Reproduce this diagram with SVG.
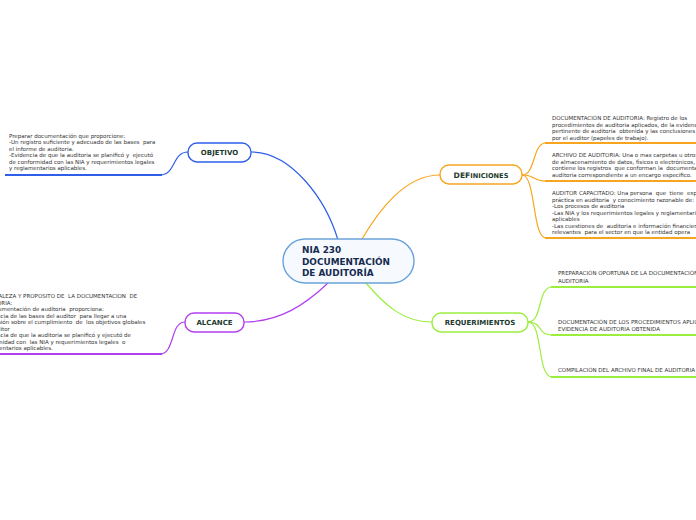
<svg xmlns="http://www.w3.org/2000/svg" width="696" height="520" viewBox="0 0 696 520" xml:space="preserve">
<style>
.note{font-family:"DejaVu Sans","Liberation Sans",sans-serif;font-size:5.5px;fill:#333333;white-space:pre}
.lbl{font-family:"DejaVu Sans","Liberation Sans",sans-serif;font-weight:bold;font-size:7px;fill:#1c3a2e;text-anchor:middle}
.ctr{font-family:"DejaVu Sans","Liberation Sans",sans-serif;font-weight:bold;font-size:8.9px;fill:#172b50}
.node{fill:#ffffff;stroke-width:1.4}
.c{fill:none;stroke-width:1.2}
.u{fill:none;stroke-width:2}
.blue{stroke:#2f5fea}
.orange{stroke:#f7a51e}
.green{stroke:#9bee3c}
.purple{stroke:#b23ef0}
</style>
<rect width="696" height="520" fill="#ffffff"/>
<g id="connectors">
<path class="c blue" d="M338,240 C326,200 292,152 251,152"/>
<path class="c orange" d="M362,239 C378,212 404,175 440,175"/>
<path class="c purple" d="M328,283 C306,304 280,322 244,322"/>
<path class="c green" d="M366,283 C384,304 402,322 432,322"/>
<path class="c blue" d="M188,152 C172,152 176,175 160,175"/>
<path class="u blue" d="M5,175 L162,175"/>
<path class="c orange" d="M522,175 C536,175 532,143 546,143"/>
<path class="c orange" d="M522,175 C536,175 532,181 546,181"/>
<path class="c orange" d="M522,175 C536,175 532,238 546,238"/>
<path class="u orange" d="M545,143 L696,143 M545,181 L696,181 M545,238 L696,238"/>
<path class="c green" d="M528,322 C543,322 537,287 552,287"/>
<path class="c green" d="M528,322 C543,322 537,335 552,335"/>
<path class="c green" d="M528,322 C543,322 537,377 552,377"/>
<path class="u green" d="M551,287 L696,287 M551,335 L696,335 M551,377 L696,377"/>
<path class="c purple" d="M185,322 C170,322 175,354 160,354"/>
<path class="u purple" d="M0,354 L162,354"/>
</g>
<g id="center">
<rect x="283" y="239" width="131" height="44" rx="22" fill="#f6faff" stroke="#6aa3d8" stroke-width="1.4"/>
<text class="ctr" x="302" y="253">NIA 230</text>
<text class="ctr" x="302" y="264.5">DOCUMENTACIÓN</text>
<text class="ctr" x="302" y="276">DE AUDITORÍA</text>
</g>
<g id="objetivo">
<rect class="node blue" x="188" y="143" width="63" height="19" rx="9"/>
<text class="lbl" x="219.5" y="155">OBJETIVO</text>
</g>
<g id="definiciones">
<rect class="node orange" x="440" y="165" width="82" height="19" rx="9"/>
<text class="lbl" x="481" y="177.5"><tspan font-size="7.6">DEF</tspan><tspan font-size="6.6">INICIONES</tspan></text>
</g>
<g id="alcance">
<rect class="node purple" x="185" y="313" width="59" height="19" rx="9"/>
<text class="lbl" x="214.5" y="325">ALCANCE</text>
</g>
<g id="requerimientos">
<rect class="node green" x="432" y="313" width="96" height="19" rx="9"/>
<text class="lbl" x="480" y="325">REQUERIMIENTOS</text>
</g>
<g id="objetivo-note">
<text class="note" x="9" y="137.5">Preparar documentación que proporcione:</text>
<text class="note" x="9" y="144">-Un registro suficiente y adecuado de las bases  para</text>
<text class="note" x="9" y="150.5">el informe de auditoria.</text>
<text class="note" x="9" y="157">-Evidencia de que la auditoria se planificó y  ejecutó</text>
<text class="note" x="9" y="163.5">de conformidad con las NIA y requerimientos legales</text>
<text class="note" x="9" y="170">y reglamentarios aplicables.</text>
</g>
<g id="def-note-1">
<text class="note" x="552" y="120">DOCUMENTACIÓN DE AUDITORIA: Registro de los</text>
<text class="note" x="552" y="126.5">procedimientos de auditoria aplicados, de la evidencia</text>
<text class="note" x="552" y="133">pertinente de auditoria  obtenida y las conclusiones</text>
<text class="note" x="552" y="139.5">por el auditor (papeles de trabajo).</text>
</g>
<g id="def-note-2">
<text class="note" x="552" y="157">ARCHIVO DE AUDITORIA: Una o mas carpetas u otros</text>
<text class="note" x="552" y="163.5">de almacenamiento de datos, físicos o electrónicos,</text>
<text class="note" x="552" y="170">contiene los registros  que conforman la  documentación</text>
<text class="note" x="552" y="176.5">auditoria correspondiente a un encargo especifico.</text>
</g>
<g id="def-note-3">
<text class="note" x="552" y="195">AUDITOR CAPACITADO: Una persona  que  tiene  experiencia</text>
<text class="note" x="552" y="201.5">práctica en auditoria  y conocimiento razonable de:</text>
<text class="note" x="552" y="208">-Los procesos de auditoria</text>
<text class="note" x="552" y="214.5">-Las NIA y los requerimientos legales y reglamentarios</text>
<text class="note" x="552" y="221">aplicables</text>
<text class="note" x="552" y="227.5">-Las cuestiones de  auditoria e información financiera</text>
<text class="note" x="552" y="234">relevantes  para el sector en que la entidad opera</text>
</g>
<g id="req-notes">
<text class="note" x="558" y="275">PREPARACIÓN OPORTUNA DE LA DOCUMENTACIÓN DE</text>
<text class="note" x="558" y="282.5">AUDITORIA</text>
<text class="note" x="558" y="324">DOCUMENTACIÓN DE LOS PROCEDIMIENTOS APLICADOS Y DE LA</text>
<text class="note" x="558" y="330.5">EVIDENCIA DE AUDITORIA OBTENIDA</text>
<text class="note" x="558" y="372">COMPILACIÓN DEL ARCHIVO FINAL DE AUDITORIA</text>
</g>
<g id="alcance-note">
<text class="note" x="-20" y="298">NATURALEZA Y PROPOSITO DE  LA DOCUMENTACION  DE</text>
<text class="note" x="-20" y="304.5">AUDITORIA:</text>
<text class="note" x="-20" y="311">La documentación de auditoria  proporciona:</text>
<text class="note" x="-20" y="317.5">-Evidencia de las bases del auditor  para llegar a una</text>
<text class="note" x="-20" y="324">conclusión sobre el cumplimiento  de  los objetivos globales</text>
<text class="note" x="-20" y="330.5">del auditor</text>
<text class="note" x="-20" y="337">-Evidencia de que la auditoria se planificó y ejecutó de</text>
<text class="note" x="-20" y="343.5">conformidad con  las NIA y requerimientos legales  o</text>
<text class="note" x="-20" y="350">reglamentarios aplicables.</text>
</g>
</svg>
